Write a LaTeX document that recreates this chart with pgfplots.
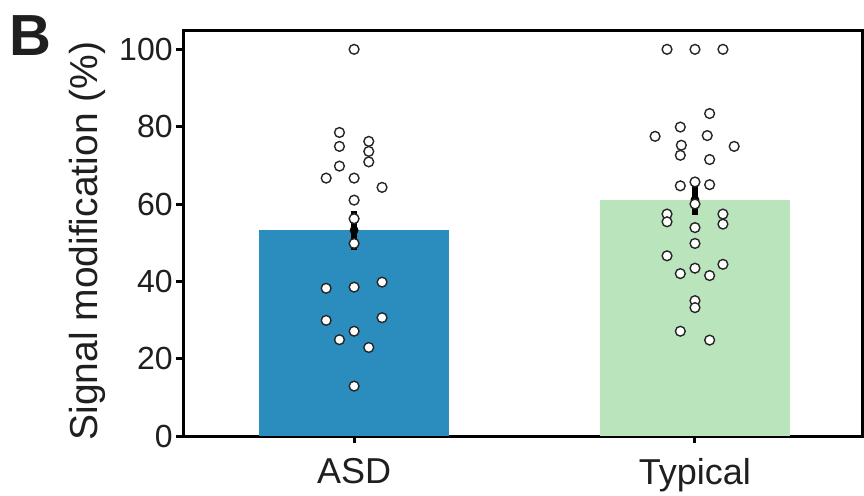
\documentclass[border=0pt]{standalone}
\usepackage{fontspec}
\setmainfont{Liberation Sans}
\usepackage{pgfplots}
\usepackage{pgfplotstable}
\pgfplotsset{compat=1.18}

\definecolor{asdblue}{HTML}{2B8CBE}
\definecolor{typgreen}{HTML}{BAE4BC}
\definecolor{txt}{HTML}{1F1F1F}

% Individual subjects (x = category position with a small horizontal jitter)
\pgfplotstableread{
x y
0 100
-0.043 78.5
0.043 76.2
-0.043 74.9
0.043 73.6
0.043 70.9
-0.043 69.8
-0.082 66.7
0 66.7
0.082 64.3
0 61.0
0 56.2
0 49.8
-0.082 38.2
0 38.5
0.082 39.8
-0.082 29.9
0.082 30.6
0 27.1
-0.043 24.9
0.043 22.9
0 12.9
}\asdpts

\pgfplotstableread{
x y
0.918 100
1 100
1.082 100
1.043 83.4
0.957 79.9
0.883 77.5
1.036 77.7
0.960 75.2
1.115 74.9
0.957 72.6
1.043 71.5
0.957 64.7
1 65.7
1.043 65.0
1 60.0
0.918 57.4
0.918 55.4
1.082 57.4
1.082 54.8
1 53.9
1 49.8
0.918 46.6
1.082 44.4
1 43.4
0.957 42.0
1.043 41.5
1 35.0
1 33.2
0.957 27.1
1.043 24.8
}\typpts

\begin{document}
\begin{tikzpicture}
\useasboundingbox (0,0) rectangle (432pt,247.5pt);
\node[anchor=base west, inner sep=0pt, text=txt]
  at (4.5pt,220pt) {\fontsize{29}{32}\selectfont\bfseries B};
\begin{axis}[
  at={(91.5pt,29.5pt)}, anchor=south west,
  scale only axis,
  width=339.5pt, height=203pt,
  xmin=-0.502, xmax=1.49,
  ymin=0, ymax=105,
  axis line style={line width=1.5pt, black},
  xtick={0,1}, xticklabels={ASD, Typical},
  ytick={0,20,40,60,80,100},
  xtick pos=bottom, ytick pos=left,
  tick align=outside,
  major tick length=3.5pt,
  major tick style={line width=1.5pt, black},
  /pgf/number format/assume math mode=true,
  yticklabel style={font=\fontsize{16}{19}\selectfont, text=txt, inner sep=1.5pt},
  xticklabel style={font=\fontsize{18}{21}\selectfont, text=txt, yshift=-4pt},
  ylabel={Signal modification (\%)},
  every axis y label/.style={at={(axis description cs:-0.1414,0.48)},
    rotate=90, anchor=center, font=\fontsize{19.5}{22}\selectfont, text=txt},
  clip=false,
]
\addplot[ybar, bar width=95pt, bar shift=0pt, fill=asdblue, draw=none]
  coordinates {(0,53.2)};
\addplot[ybar, bar width=95pt, bar shift=0pt, fill=typgreen, draw=none]
  coordinates {(1,61.1)};
% mean +/- SEM
\addplot[only marks, mark=none,
  error bars/.cd, y dir=both, y explicit, error mark=none,
  error bar style={line width=2.8pt, black}]
  coordinates {(0,53.2) +- (0,5.1) (1,61.1) +- (0,3.9)};
\addplot[only marks, mark=*, mark size=2.45pt,
  mark options={fill=white, draw=black!85, line width=0.7pt}]
  table {\asdpts};
\addplot[only marks, mark=*, mark size=2.45pt,
  mark options={fill=white, draw=black!85, line width=0.7pt}]
  table {\typpts};
\end{axis}
\end{tikzpicture}
\end{document}
